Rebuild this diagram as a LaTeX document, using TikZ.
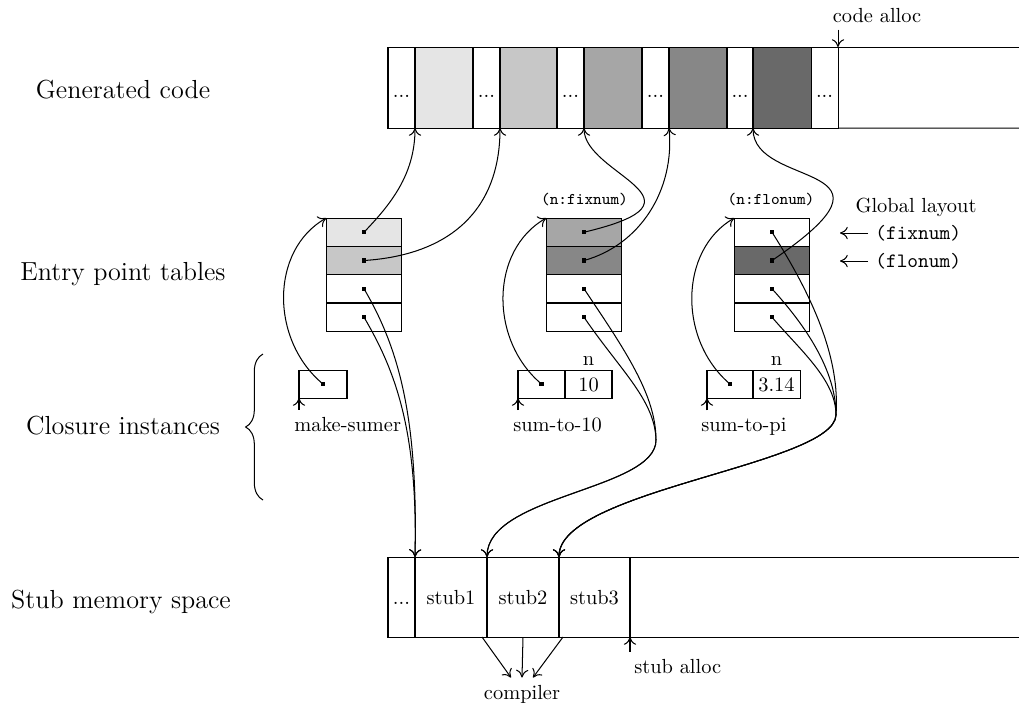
\documentclass[tikz,border=0pt]{standalone}
\usetikzlibrary{calc,decorations.pathreplacing,arrows.meta}
\def\u{0.49pt}
\begin{document}
\begin{tikzpicture}[x=\u, y=-\u, line width=0.5pt,
  codecell/.style={draw, inner sep=0pt, outer sep=0pt, minimum height=81*\u, text height=10pt, text depth=0pt},
  rowcell/.style={draw, inner sep=0pt, outer sep=0pt, minimum width=75.5*\u, minimum height=28.33*\u},
  clocell/.style={draw, inner sep=0pt, outer sep=0pt, minimum height=28*\u, text height=7pt, text depth=0pt},
  stubcell/.style={draw, inner sep=0pt, outer sep=0pt, minimum height=80*\u, text height=7pt, text depth=0pt},
  dotmark/.style={fill=black, inner sep=0pt, minimum size=2pt, rectangle},
  biglabel/.style={font=\fontsize{12.8}{15}\selectfont, align=center},
  link/.style={-{To[length=3.8pt,width=6pt]}},
]
\useasboundingbox (0,0) rectangle (1019,704);

% left labels
\node[biglabel] (lgen) at (123,90) {Generated code};
\node[biglabel] (lent) at (123,274) {Entry point tables};
\node[biglabel] (lclo) at (123,426) {Closure instances};
\node[biglabel] (lstub) at (121,602) {Stub memory space};

% generated code bar
\node[codecell, minimum width=27*\u] (c0) at (401.5,87.5) {...};
\node[codecell, fill=black!10, minimum width=58*\u] (g1) at (444,87.5) {};
\node[codecell, minimum width=27*\u] (c1) at (486.5,87.5) {...};
\node[codecell, fill=black!22, minimum width=57*\u] (g2) at (528.5,87.5) {};
\node[codecell, minimum width=27*\u] (c2) at (570.5,87.5) {...};
\node[codecell, fill=black!35, minimum width=58*\u] (g3) at (613,87.5) {};
\node[codecell, minimum width=27*\u] (c3) at (655.5,87.5) {...};
\node[codecell, fill=black!47, minimum width=58*\u] (g4) at (698,87.5) {};
\node[codecell, minimum width=26*\u] (c4) at (740,87.5) {...};
\node[codecell, fill=black!59, minimum width=58*\u] (g5) at (782,87.5) {};
\node[codecell, minimum width=27*\u] (c5) at (824.5,87.5) {...};
\coordinate (codetopend) at (1019,47);
\coordinate (codebotend) at (1019,128);
\draw (c5.north east) -- (codetopend);
\draw (c5.south east) -- (codebotend);

% code alloc
\node[anchor=base] (calloc) at (877,22) {code alloc};
\draw[link] (calloc.south -| c5.north east) -- (c5.north east);

% entry point tables
\node[rowcell, fill=black!10] (t1a) at (364,232.2) {};
\node[rowcell, fill=black!22] (t1b) at (364,260.5) {};
\node[rowcell] (t1c) at (364,288.8) {};
\node[rowcell] (t1d) at (364,317.2) {};

\node[rowcell, fill=black!35] (t2a) at (584,232.2) {};
\node[rowcell, fill=black!47] (t2b) at (584,260.5) {};
\node[rowcell] (t2c) at (584,288.8) {};
\node[rowcell] (t2d) at (584,317.2) {};

\node[rowcell] (t3a) at (772,232.2) {};
\node[rowcell, fill=black!59] (t3b) at (772,260.5) {};
\node[rowcell] (t3c) at (772,288.8) {};
\node[rowcell] (t3d) at (772,317.2) {};

\foreach \n in {t1a,t1b,t1c,t1d,t2a,t2b,t2c,t2d,t3a,t3b,t3c,t3d}
  \node[dotmark] at (\n.center) {};

\node[font=\fontsize{8}{10}\selectfont\ttfamily] (nfix) at (584.5,199) {(n:fixnum)};
\node[font=\fontsize{8}{10}\selectfont\ttfamily] (nflo) at (771,199) {(n:flonum)};

% global layout
\node (glob) at (916,207) {Global layout};
\node[anchor=west, font=\ttfamily] (gfix) at (868,233) {(fixnum)};
\node[anchor=west, font=\ttfamily] (gflo) at (868,261) {(flonum)};
\draw[link] (gfix.west) -- ++(-28,0);
\draw[link] (gflo.west) -- ++(-28,0);

% closure instances
\node[clocell, minimum width=48*\u] (k1) at (323,384) {};
\node[clocell, minimum width=47*\u] (k2l) at (541.5,384) {};
\node[clocell, minimum width=47*\u, label={[inner sep=2pt]above:n}] (k2r) at (588.5,384) {10};
\node[clocell, minimum width=46*\u] (k3l) at (730,384) {};
\node[clocell, minimum width=47*\u, label={[inner sep=2pt]above:n}] (k3r) at (776.5,384) {3.14};
\foreach \n in {k1,k2l,k3l}
  \node[dotmark] at (\n.center) {};

\node[anchor=base west] (lab1) at (287,431) {make-sumer};
\node[anchor=base west] (lab2) at (506,431) {sum-to-10};
\node[anchor=base west] (lab3) at (694,431) {sum-to-pi};
\draw[link] (lab1.north -| k1.south west) -- (k1.south west);
\draw[link] (lab2.north -| k2l.south west) -- (k2l.south west);
\draw[link] (lab3.north -| k3l.south west) -- (k3l.south west);

\draw[decorate, decoration={brace, amplitude=8.5pt}] (263,500) -- (263,354);

% closure -> table
\draw[link] (k1.center) .. controls (270,340) and (270,250) .. (t1a.north west);
\draw[link] (k2l.center) .. controls (489,340) and (490,250) .. (t2a.north west);
\draw[link] (k3l.center) .. controls (678,340) and (679,250) .. (t3a.north west);

% table -> code
\draw[link] (t1a.center) .. controls (390,205) and (415,175) .. (g1.south west);
\draw[link] (t1b.center) .. controls (450,255) and (500,210) .. (g2.south west);
\draw[link] (t2a.center) .. controls (720,200) and (584,175) .. (g3.south west);
\draw[link] (t2b.center) .. controls (640,245) and (675,190) .. (g4.south west);
\draw[link] (t3b.center) .. controls (920,160) and (753,190) .. (g5.south west);

% stub memory bar
\node[stubcell, minimum width=27*\u] (s0) at (401.5,597) {...};
\node[stubcell, minimum width=72*\u] (s1) at (451,597) {stub1};
\node[stubcell, minimum width=72*\u] (s2) at (523,597) {stub2};
\node[stubcell, minimum width=71*\u] (s3) at (594.5,597) {stub3};
\coordinate (stubtopend) at (1019,557);
\coordinate (stubbotend) at (1019,637);
\draw (s3.north east) -- (stubtopend);
\draw (s3.south east) -- (stubbotend);

% table -> stubs
\draw[link] (t1c.center) .. controls (400,350) and (418,420) .. (s1.north west);
\draw[link] (t1d.center) .. controls (395,370) and (418,430) .. (s1.north west);

\coordinate (w2) at (656,440);
\draw[link] (t2c.center) .. controls (625,350) and (656,395) .. (w2) .. controls (656,490) and (487,495) .. (s2.north west);
\draw[link] (t2d.center) .. controls (620,370) and (655,400) .. (w2) .. controls (656,490) and (487,495) .. (s2.north west);

\coordinate (w3) at (836,415);
\draw[link] (t3a.center) .. controls (815,300) and (840,360) .. (w3) .. controls (834,465) and (559,490) .. (s3.north west);
\draw[link] (t3c.center) .. controls (805,325) and (836,370) .. (w3) .. controls (834,465) and (559,490) .. (s3.north west);
\draw[link] (t3d.center) .. controls (800,350) and (836,380) .. (w3) .. controls (834,465) and (559,490) .. (s3.north west);

% compiler
\node[anchor=base] (comp) at (522,699) {compiler};
\draw[link] ($(s2.south west)+(-5,0)$) -- ($(comp.north)+(-11,0)$);
\draw[link] (s2.south) -- (comp.north);
\draw[link] ($(s3.south west)+(4,0)$) -- ($(comp.north)+(11,0)$);

% stub alloc
\node[anchor=base west] (salloc) at (627,673) {stub alloc};
\draw[link] (salloc.north -| s3.south east) -- (s3.south east);
\end{tikzpicture}
\end{document}
